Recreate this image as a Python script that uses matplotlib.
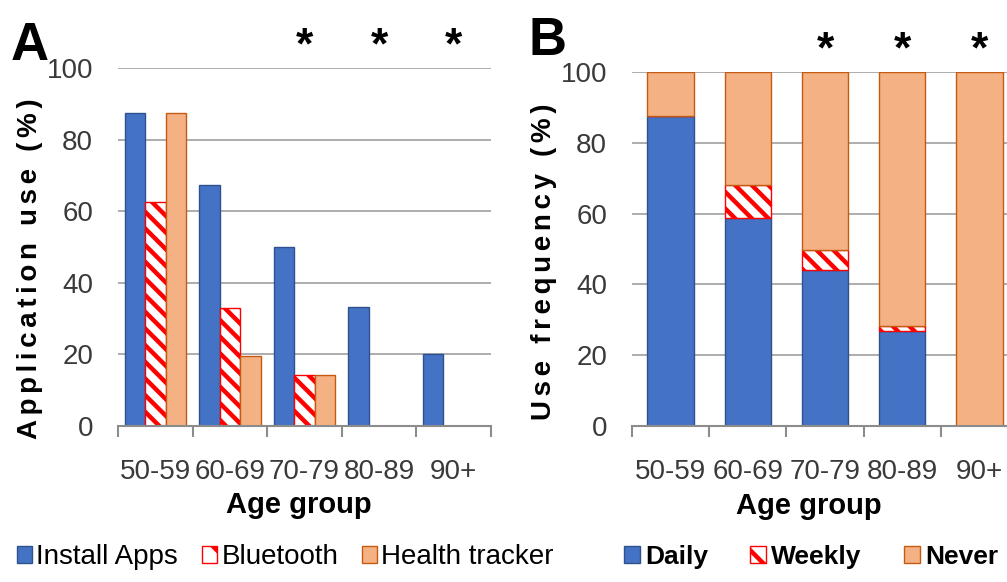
import numpy as np
import matplotlib
matplotlib.use('Agg')
import matplotlib.pyplot as plt
from matplotlib.patches import Patch

# data
age_groups = ['50-59', '60-69', '70-79', '80-89', '90+']

# A: application use by age group (%)
install_apps = [87.5, 67.3, 50.0, 33.3, 20.0]
bluetooth = [62.5, 33.0, 14.3, 0, 0]
health_tracker = [87.5, 19.5, 14.3, 0, 0]

# B: use frequency by age group (%)
daily = [87.5, 58.8, 44.0, 26.8, 0]
weekly = [0, 9.2, 5.7, 1.4, 0]
never = [12.5, 32.0, 50.3, 71.8, 100]

# groups marked as significant
starred = ['70-79', '80-89', '90+']

BLUE, BLUE_EDGE = '#4472C4', '#2F528F'
ORANGE, ORANGE_EDGE = '#F4B183', '#C55A11'
RED = '#FF0000'
GRID = '#a0a0a0'
HATCH = '\\\\'

plt.rcParams['font.family'] = ['Liberation Sans', 'DejaVu Sans']
plt.rcParams['hatch.linewidth'] = 3.2

fig = plt.figure(figsize=(10.07, 5.82), dpi=100)
W, H = 1007, 582


def px_axes(left, top, right, bottom):
    return fig.add_axes([left / W, 1 - bottom / H, (right - left) / W, (bottom - top) / H])


def style_axes(ax):
    x = np.arange(len(age_groups))
    ax.set_xlim(-0.5, len(age_groups) - 0.5)
    ax.set_ylim(0, 100)
    ax.set_yticks(range(0, 101, 20))
    ax.yaxis.grid(True, color=GRID, lw=1.2)
    ax.set_axisbelow(True)
    for s in ['left', 'right', 'top']:
        ax.spines[s].set_visible(False)
    ax.spines['bottom'].set_color('#8c8c8c')
    ax.spines['bottom'].set_linewidth(1.5)
    ax.spines['bottom'].set_zorder(5)
    ax.tick_params(axis='y', length=0, pad=18, labelsize=20, labelcolor='#3a3a3a')
    ax.set_xticks(x)
    ax.set_xticklabels(age_groups)
    ax.tick_params(axis='x', which='major', length=0, pad=24, labelsize=20, labelcolor='#3a3a3a')
    ax.set_xticks(np.arange(-0.5, len(age_groups), 1), minor=True)
    ax.tick_params(axis='x', which='minor', length=8, width=1.5, color='#8c8c8c', direction='out')
    for g in starred:
        ax.text(age_groups.index(g), 1.06, '*', transform=ax.get_xaxis_transform(),
                ha='center', va='center', fontsize=32, fontweight='bold')


# ---- panel A: grouped bars
axA = px_axes(118, 68, 491, 426)
x = np.arange(len(age_groups))
bw = 0.275
axA.bar(x - bw, install_apps, bw, color=BLUE, edgecolor=BLUE_EDGE, lw=1)
axA.bar(x, bluetooth, bw, color='white', edgecolor=RED, hatch=HATCH, lw=1)
axA.bar(x + bw, health_tracker, bw, color=ORANGE, edgecolor=ORANGE_EDGE, lw=1)
style_axes(axA)

# ---- panel B: stacked bars
axB = px_axes(632, 72, 1018, 426)
bw = 0.6
axB.bar(x, daily, bw, color=BLUE, edgecolor=BLUE_EDGE, lw=1)
axB.bar(x, weekly, bw, bottom=daily, color='white', edgecolor=RED, hatch=HATCH, lw=1)
axB.bar(x, never, bw, bottom=np.add(daily, weekly), color=ORANGE, edgecolor=ORANGE_EDGE, lw=1)
style_axes(axB)

# panel letters
fig.text(11 / W, 1 - 60 / H, 'A', fontsize=38, fontweight='bold', ha='left', va='baseline')
fig.text(528 / W, 1 - 55 / H, 'B', fontsize=38, fontweight='bold', ha='left', va='baseline')

# axis titles (letter-spaced)
sp = '\u2006'
fig.text(30 / W, 1 - 269 / H, sp.join('Application use (%)'), rotation=90, ha='center', va='center',
         fontsize=20, fontweight='bold')
fig.text(544 / W, 1 - 262 / H, sp.join('Use frequency (%)'), rotation=90, ha='center', va='center',
         fontsize=20, fontweight='bold')
fig.text(299 / W, 1 - 513 / H, 'Age group', ha='center', va='baseline', fontsize=21, fontweight='bold')
fig.text(809 / W, 1 - 514 / H, 'Age group', ha='center', va='baseline', fontsize=21, fontweight='bold')

# legends
handles = [Patch(facecolor=BLUE, edgecolor=BLUE_EDGE),
           Patch(facecolor='white', edgecolor=RED, hatch='\\'),
           Patch(facecolor=ORANGE, edgecolor=ORANGE_EDGE)]
fig.legend(handles, ['Install Apps', 'Bluetooth', 'Health tracker'], ncol=3,
           loc='center left', bbox_to_anchor=(17 / W, 1 - 557 / H), frameon=False,
           fontsize=20, handlelength=0.55, handleheight=0.55, handletextpad=0.15,
           columnspacing=0.85, borderpad=0, borderaxespad=0)

fig.legend(handles, ['Daily', 'Weekly', 'Never'], ncol=3,
           loc='center left', bbox_to_anchor=(624 / W, 1 - 557 / H), frameon=False,
           prop={'size': 19, 'weight': 'bold'}, handlelength=0.6, handleheight=0.6,
           handletextpad=0.2, columnspacing=1.6, borderpad=0, borderaxespad=0)

fig.savefig('out.png', dpi=100)
